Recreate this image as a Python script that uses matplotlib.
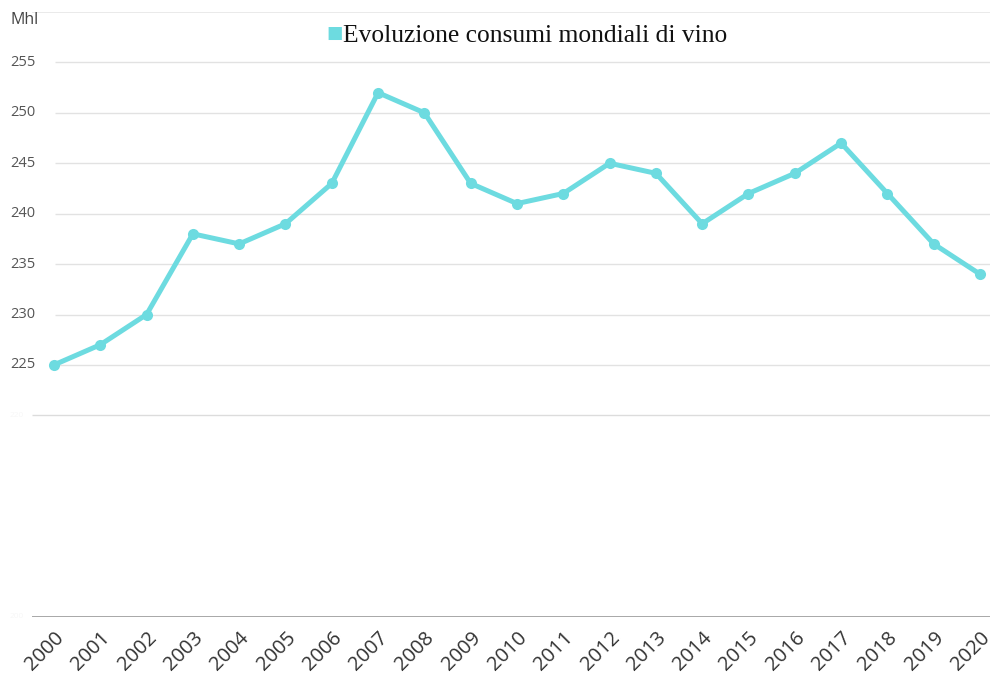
import matplotlib.pyplot as plt
import matplotlib.transforms as mtransforms

years = list(range(2000, 2021))
consumi = [225, 227, 230, 238, 237, 239, 243, 252, 250, 243, 241,
           242, 245, 244, 239, 242, 244, 247, 242, 237, 234]
y_ticks = [225, 230, 235, 240, 245, 250, 255]
y_faint = [200, 220]

W, H = 993, 690
fig = plt.figure(figsize=(W / 100, H / 100), dpi=100)
# axes box in pixels: left 32, right 990, top 12, bottom 617
ax = fig.add_axes([32 / W, 1 - 617 / H, (990 - 32) / W, (617 - 12) / H])
ax.set_xlim(1999.525, 2020.216)
ax.set_ylim(200, 260)
for s in ax.spines.values():
    s.set_visible(False)
ax.set_yticks([])
ax.set_xticks(years)
ax.tick_params(axis='x', length=0, pad=8)
ax.set_xticklabels([str(y) for y in years], rotation=45, ha='right', va='top',
                   rotation_mode='anchor', fontsize=14.5, color='#333333',
                   family='Open Sans')

trans = mtransforms.blended_transform_factory(ax.transAxes, ax.transData)
x0 = (55 - 32) / (990 - 32)
for v in y_ticks:
    ax.hlines(v, x0, 1, transform=trans, color='#e2e2e2', lw=1, zorder=0)
    ax.text(-22 / 958, v, str(v), transform=trans, ha='left', va='center',
            fontsize=10.5, color='#555555', family='Open Sans')
ax.hlines(260, 0, 1, transform=trans, color='#e6e6e6', lw=1.2, zorder=0)
ax.hlines(220, 0, 1, transform=trans, color='#dcdcdc', lw=1, zorder=0)
ax.hlines(200, 0, 1, transform=trans, color='#999999', lw=1.2, zorder=0)
for v in y_faint:
    ax.text(-22 / 958, v, str(v), transform=trans, ha='left', va='center',
            fontsize=6, color='#f7f7f7', family='Open Sans')

ax.plot(years, consumi, color='#6ddbe0', lw=3.6, marker='o', ms=8,
        markeredgewidth=0, solid_joinstyle='round', clip_on=False)

fig.text(10 / W, 1 - 20 / H, 'Mhl', ha='left', va='center', fontsize=11.5,
         color='#444444', family='Open Sans')
fig.text(326 / W, 1 - 33 / H, '\u25A0', ha='left', va='center', fontsize=12.5,
         color='#6ddbe0', family='DejaVu Sans')
fig.text(343 / W, 1 - 36 / H, 'Evoluzione consumi mondiali di vino', ha='left',
         va='center', fontsize=18.4, color='#111111', family='Liberation Serif')

fig.savefig('out.png', dpi=100)
